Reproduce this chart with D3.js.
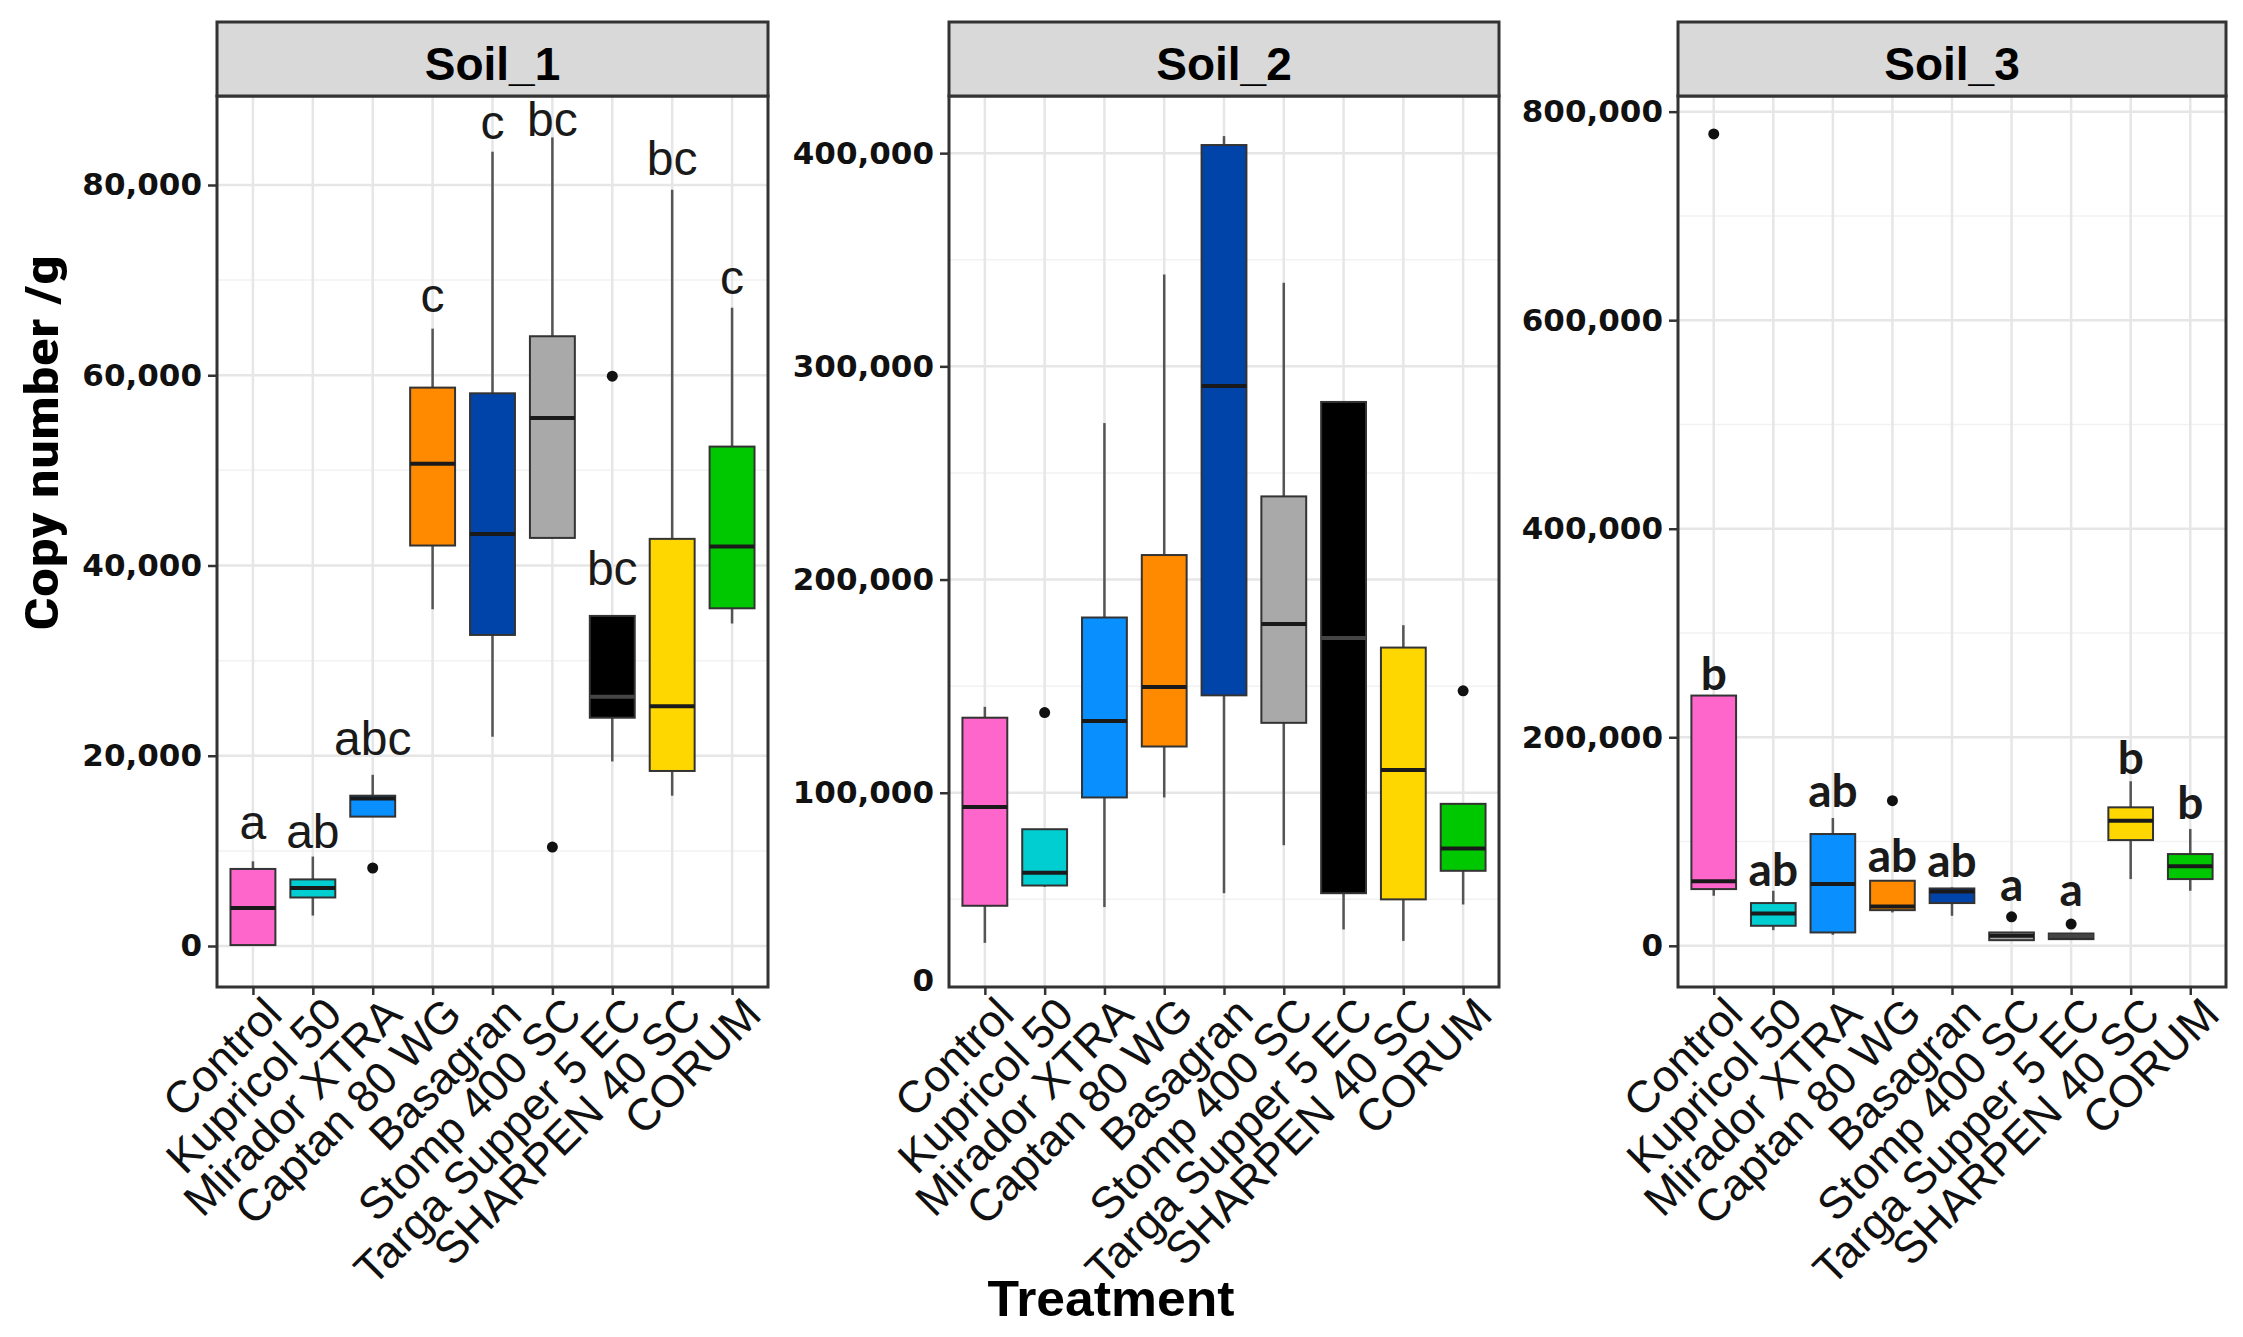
<!DOCTYPE html>
<html>
<head>
<meta charset="utf-8">
<script src="https://cdn.jsdelivr.net/npm/d3@7"></script>
<style>
  body { margin: 0; background: #fff; }
  svg { display: block; }
</style>
</head>
<body>
<svg id="chart" width="2243" height="1337"></svg>
<script>
// categories and fills
const treatments = ["Control", "Kupricol 50", "Mirador XTRA", "Captan 80 WG", "Basagran",
  "Stomp 400 SC", "Targa Supper 5 EC", "SHARPEN 40 SC", "CORUM"];
const fills = ["#FF66CC", "#00CED1", "#0A8FFF", "#FF8A00", "#0044AA",
  "#A9A9A9", "#000000", "#FFD700", "#00C800"];

// Soil_1 box stats (copy number /g)
const soil1Low = [0, 3200, 13600, 35400, 22000, 42900, 19400, 15800, 33900];
const soil1Q1 = [100, 5100, 13600, 42100, 32700, 42900, 24000, 18400, 35500];
const soil1Med = [4000, 6100, 15500, 50700, 43300, 55500, 26200, 25200, 42000];
const soil1Q3 = [8100, 7000, 15800, 58700, 58100, 64100, 34700, 42800, 52500];
const soil1High = [8900, 9400, 18000, 64900, 83500, 85000, 34700, 79500, 67100];
const soil1Out = [[], [], [8200], [], [], [10400], [59900], [], []];
const soil1Letters = ["a", "ab", "abc", "c", "c", "bc", "bc", "bc", "c"];
const soil1LetterAt = [11300, 10300, 20100, 66700, 84800, 85200, 37900, 81000, 68500];
const soil1Ticks = [0, 20000, 40000, 60000, 80000];

// Soil_2
const soil2Low = [29600, 55900, 46400, 97800, 52900, 75400, 35900, 30500, 47600];
const soil2Q1 = [47000, 56500, 97800, 121700, 145700, 132800, 52900, 50000, 63400];
const soil2Med = [93300, 62500, 133700, 149600, 290800, 179200, 172600, 110700, 73900];
const soil2Q3 = [135200, 82900, 182200, 211500, 403800, 239000, 283300, 168100, 94800];
const soil2High = [140300, 82900, 273400, 343100, 408000, 339200, 283300, 178600, 94800];
const soil2Out = [[], [137600], [], [], [], [], [], [], [147800]];
const soil2Ticks = [100000, 200000, 300000, 400000];

// Soil_3
const soil3Low = [48000, 15000, 10600, 32000, 28800, 5400, 6400, 64000, 52800];
const soil3Q1 = [54400, 19200, 12800, 34200, 41000, 5400, 6400, 101400, 64000];
const soil3Med = [61800, 31000, 59200, 37800, 52200, 9600, 9300, 120000, 76200];
const soil3Q3 = [240000, 41000, 107200, 62400, 55000, 12800, 11800, 132800, 88000];
const soil3High = [240000, 52800, 122600, 62400, 56000, 12800, 11800, 157800, 112000];
const soil3Out = [[778600], [], [], [139200], [], [27800], [20800], [], []];
const soil3Letters = ["b", "ab", "ab", "ab", "ab", "a", "a", "b", "b"];
const soil3LetterAt = [245000, 57600, 132800, 70400, 65600, 43200, 38400, 164800, 121600];
const soil3Ticks = [0, 200000, 400000, 600000, 800000];

const svg = d3.select("#chart");
const stripTop = 22, panelTop = 96, panelBottom = 987;
const fmt = d3.format(",");

const panels = [
  { name: "Soil_1", left: 217, right: 768, domain: [-4310, 89356],
    low: soil1Low, q1: soil1Q1, med: soil1Med, q3: soil1Q3, high: soil1High, out: soil1Out,
    ticks: soil1Ticks, letters: soil1Letters, letterAt: soil1LetterAt,
    letterFont: "'Liberation Sans', Arial, sans-serif", letterWeight: 400, letterSize: 48 },
  { name: "Soil_2", left: 949, right: 1499, domain: [8900, 426800],
    low: soil2Low, q1: soil2Q1, med: soil2Med, q3: soil2Q3, high: soil2High, out: soil2Out,
    ticks: soil2Ticks, letters: null, fakeZero: true },
  { name: "Soil_3", left: 1678, right: 2226, domain: [-39500, 815000],
    low: soil3Low, q1: soil3Q1, med: soil3Med, q3: soil3Q3, high: soil3High, out: soil3Out,
    ticks: soil3Ticks, letters: soil3Letters, letterAt: soil3LetterAt,
    letterFont: "Lato, 'Open Sans', sans-serif", letterWeight: 700, letterSize: 46 }
];

panels.forEach(p => drawPanel(p));

function drawPanel(p) {
  const g = svg.append("g");
  const x = d3.scalePoint().domain(treatments).range([p.left, p.right]).padding(0.6);
  const y = d3.scaleLinear().domain(p.domain).range([panelBottom, panelTop]);
  const bw = x.step() * 0.75;

  // panel background + grid
  g.append("rect").attr("x", p.left).attr("y", panelTop)
    .attr("width", p.right - p.left).attr("height", panelBottom - panelTop).attr("fill", "#fff");

  const step = p.ticks[1] - p.ticks[0];
  const minor = p.ticks.map(t => t - step / 2).concat([p.ticks[p.ticks.length - 1] + step / 2])
    .filter(v => v > p.domain[0] && v < p.domain[1]);
  g.selectAll(".minor").data(minor).join("line")
    .attr("x1", p.left).attr("x2", p.right)
    .attr("y1", d => y(d)).attr("y2", d => y(d))
    .attr("stroke", "#F2F2F2").attr("stroke-width", 1.5);
  g.selectAll(".major").data(p.ticks).join("line")
    .attr("x1", p.left).attr("x2", p.right)
    .attr("y1", d => y(d)).attr("y2", d => y(d))
    .attr("stroke", "#E6E6E6").attr("stroke-width", 2.5);
  g.selectAll(".vgrid").data(treatments).join("line")
    .attr("x1", d => x(d)).attr("x2", d => x(d))
    .attr("y1", panelTop).attr("y2", panelBottom)
    .attr("stroke", "#E6E6E6").attr("stroke-width", 2.5);

  // boxes
  const rows = treatments.map((t, i) => ({
    t, fill: fills[i], low: p.low[i], q1: p.q1[i], med: p.med[i], q3: p.q3[i], high: p.high[i], out: p.out[i]
  }));
  const box = g.selectAll(".box").data(rows).join("g");
  box.append("line") // whisker up
    .attr("x1", d => x(d.t)).attr("x2", d => x(d.t))
    .attr("y1", d => y(d.q3)).attr("y2", d => y(d.high))
    .attr("stroke", "#555").attr("stroke-width", 2.5);
  box.append("line") // whisker down
    .attr("x1", d => x(d.t)).attr("x2", d => x(d.t))
    .attr("y1", d => y(d.q1)).attr("y2", d => y(d.low))
    .attr("stroke", "#555").attr("stroke-width", 2.5);
  box.append("rect")
    .attr("x", d => x(d.t) - bw / 2).attr("width", bw)
    .attr("y", d => y(d.q3)).attr("height", d => Math.max(1, y(d.q1) - y(d.q3)))
    .attr("fill", d => d.fill).attr("stroke", "#333").attr("stroke-width", 2);
  box.append("line")
    .attr("x1", d => x(d.t) - bw / 2).attr("x2", d => x(d.t) + bw / 2)
    .attr("y1", d => y(d.med)).attr("y2", d => y(d.med))
    .attr("stroke", d => d.fill === "#000000" ? "#444" : "#1a1a1a").attr("stroke-width", 4);
  box.selectAll("circle").data(d => d.out.map(v => ({ t: d.t, v }))).join("circle")
    .attr("cx", d => x(d.t)).attr("cy", d => y(d.v)).attr("r", 5.5).attr("fill", "#111");

  // significance letters
  if (p.letters) {
    g.selectAll(".letter").data(treatments).join("text")
      .attr("x", d => x(d)).attr("y", (d, i) => y(p.letterAt[i]))
      .attr("text-anchor", "middle")
      .attr("font-family", p.letterFont).attr("font-weight", p.letterWeight)
      .attr("font-size", p.letterSize).attr("fill", "#1a1a1a")
      .text((d, i) => p.letters[i]);
  }

  // border
  g.append("rect").attr("x", p.left).attr("y", panelTop)
    .attr("width", p.right - p.left).attr("height", panelBottom - panelTop)
    .attr("fill", "none").attr("stroke", "#333").attr("stroke-width", 3);

  // strip
  g.append("rect").attr("x", p.left).attr("y", stripTop)
    .attr("width", p.right - p.left).attr("height", panelTop - stripTop)
    .attr("fill", "#D9D9D9").attr("stroke", "#333").attr("stroke-width", 3);
  g.append("text").attr("x", (p.left + p.right) / 2).attr("y", 80)
    .attr("text-anchor", "middle")
    .attr("font-family", "'Liberation Sans', Arial, sans-serif").attr("font-weight", 700)
    .attr("font-size", 46).attr("fill", "#000").text(p.name);

  // y axis
  const ya = g.append("g").attr("transform", `translate(${p.left},0)`)
    .call(d3.axisLeft(y).tickValues(p.ticks).tickFormat(fmt).tickSize(9).tickPadding(6));
  ya.select(".domain").remove();
  ya.selectAll(".tick line").attr("stroke", "#333").attr("stroke-width", 2.5);
  ya.selectAll(".tick text")
    .attr("font-family", "'DejaVu Sans', Verdana, sans-serif").attr("font-weight", 700)
    .attr("font-size", 31).attr("fill", "#111");
  if (p.fakeZero) {
    g.append("text").attr("x", p.left - 15).attr("y", panelBottom - 6)
      .attr("dy", "0.32em").attr("text-anchor", "end")
      .attr("font-family", "'DejaVu Sans', Verdana, sans-serif").attr("font-weight", 700)
      .attr("font-size", 31).attr("fill", "#111").text("0");
  }

  // x axis
  const xa = g.append("g").attr("transform", `translate(0,${panelBottom})`)
    .call(d3.axisBottom(x).tickSize(8).tickPadding(0));
  xa.select(".domain").remove();
  xa.selectAll(".tick line").attr("stroke", "#333").attr("stroke-width", 2.5);
  xa.selectAll(".tick text")
    .attr("font-family", "'Liberation Sans', Arial, sans-serif").attr("font-size", 45)
    .attr("fill", "#111").attr("text-anchor", "end")
    .attr("y", 0).attr("dy", "0.72em")
    .attr("transform", "translate(8,7) rotate(-45)");
}

// axis titles
svg.append("text")
  .attr("transform", "translate(58,443) rotate(-90)")
  .attr("text-anchor", "middle")
  .attr("font-family", "'Liberation Sans Narrow', 'Roboto Condensed', Arial, sans-serif")
  .attr("font-weight", 700).attr("font-size", 46)
  .attr("textLength", 376).attr("lengthAdjust", "spacingAndGlyphs")
  .text("Copy number /g");

svg.append("text")
  .attr("x", 1111).attr("y", 1316)
  .attr("text-anchor", "middle")
  .attr("font-family", "'Liberation Sans', Arial, sans-serif")
  .attr("font-weight", 700).attr("font-size", 50)
  .attr("textLength", 247).attr("lengthAdjust", "spacingAndGlyphs")
  .text("Treatment");
</script>
</body>
</html>
